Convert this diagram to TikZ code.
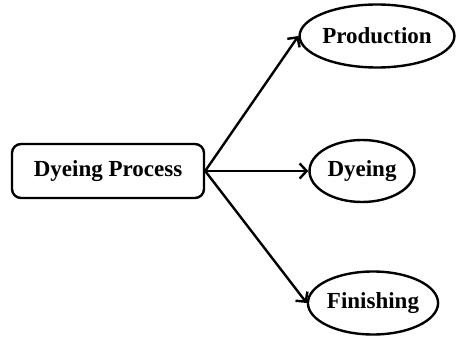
\documentclass[tikz,border=0pt]{standalone}
\usepackage{fontspec}
\setmainfont{Liberation Serif}
\usetikzlibrary{arrows.meta, shapes.geometric}

\tikzset{
    procbox/.style = {draw, line width = 2.4pt, rounded corners = 9pt, inner sep = 0pt,
        minimum width = 192pt, minimum height = 54pt, font = \fontsize{23}{26}\selectfont\bfseries},
    stage/.style = {draw, ellipse, line width = 2.4pt, inner sep = 0pt,
        font = \fontsize{23}{26}\selectfont\bfseries},
    flow/.style = {line width = 2.4pt, -{Straight Barb[length = 7pt, width = 15pt, line width = 2.4pt]}}
}

\begin{document}
\begin{tikzpicture}[x = 1pt, y = -1pt]
    \useasboundingbox (0,0) rectangle (458,337);
    \node[procbox] (dyeproc) at (108,171) {Dyeing Process};
    \node[stage, minimum width = 131pt, minimum height = 63pt] (prod) at (377,36) {Production};
    \node[stage, minimum width = 105pt, minimum height = 62pt] (dye) at (362,171) {Dyeing};
    \node[stage, minimum width = 127pt, minimum height = 63pt] (finish) at (373,303) {Finishing};
    \draw[flow] (dyeproc.east) -- (prod.west);
    \draw[flow] (dyeproc.east) -- (dye.west);
    \draw[flow] (dyeproc.east) -- (finish.west);
\end{tikzpicture}
\end{document}
